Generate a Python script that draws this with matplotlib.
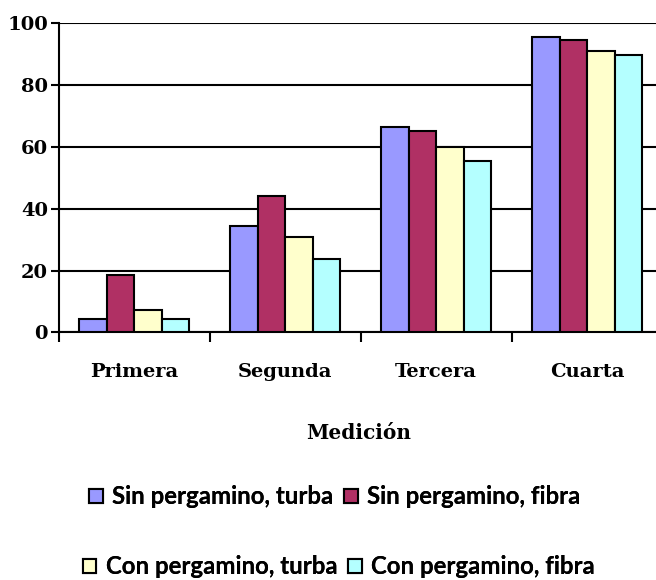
import matplotlib
matplotlib.use("Agg")
import numpy as np
import matplotlib.pyplot as plt

# ---------------- datos ----------------
mediciones = ["Primera", "Segunda", "Tercera", "Cuarta"]
series = ["Sin pergamino, turba", "Sin pergamino, fibra",
          "Con pergamino, turba", "Con pergamino, fibra"]
sin_turba = [4.2, 34.5, 66.4, 95.5]
sin_fibra = [18.7, 44.0, 65.0, 94.7]
con_turba = [7.1, 31.0, 60.0, 91.0]
con_fibra = [4.2, 23.6, 55.5, 89.6]
yticks = [0, 20, 40, 60, 80, 100]

colores = ["#9999FF", "#B03064", "#FFFFCC", "#B4FFFF"]
valores = [sin_turba, sin_fibra, con_turba, con_fibra]

# ---------------- figura ----------------
W, H = 656, 580
fig = plt.figure(figsize=(W / 100, H / 100), dpi=100)
ax = fig.add_axes([0.0899, 0.427, 0.92, 0.533])

x = np.arange(len(mediciones))
w = 0.182
handles = []
for i, (vals, col, nom) in enumerate(zip(valores, colores, series)):
    b = ax.bar(x + (i - 1.5) * w, vals, w, color=col, edgecolor="black",
               linewidth=1.5, label=nom, zorder=3)
    handles.append(b)

ax.set_xlim(-0.5, len(mediciones) - 0.5)
ax.set_ylim(0, 100)
ax.set_yticks(yticks)
ax.yaxis.grid(True, color="black", linewidth=1.5, zorder=0)
ax.set_axisbelow(True)

for s in ["top", "right"]:
    ax.spines[s].set_visible(False)
for s in ["left", "bottom"]:
    ax.spines[s].set_linewidth(1.5)

serif = {"family": "DejaVu Serif", "weight": "bold"}
ax.set_yticklabels([str(v) for v in yticks], fontdict={**serif, "size": 14})
ax.tick_params(axis="y", length=6, width=1.5, pad=2)

# ticks en los limites de categoria, etiquetas en el centro
ax.set_xticks(x)
ax.set_xticklabels(mediciones, fontdict={**serif, "size": 14})
ax.tick_params(axis="x", which="major", length=0, pad=22)
ax.set_xticks(np.arange(len(mediciones) + 1) - 0.5, minor=True)
ax.tick_params(axis="x", which="minor", length=7, width=1.5)

fig.text(359 / W, (H - 433) / H, "Medición", ha="center", va="center",
         fontdict={**serif, "size": 14.5})

# leyenda: dos filas, cada una centrada por separado (como en Excel)
prop = {"family": "Lato", "weight": "bold", "size": 17.3}
filas = [([0, 1], 335, 497), ([2, 3], 339, 567)]
for idx, cx, cy in filas:
    leg = fig.legend([handles[i] for i in idx], [series[i] for i in idx],
                     ncol=2, loc="center", bbox_to_anchor=(cx / W, (H - cy) / H),
                     frameon=False, handlelength=0.55, handleheight=0.55,
                     handletextpad=0.4, columnspacing=0.45, borderpad=0,
                     prop=prop)
    for p in leg.get_patches():
        p.set_linewidth(1.5)
    fig.add_artist(leg)

fig.savefig("out.png", dpi=100)
